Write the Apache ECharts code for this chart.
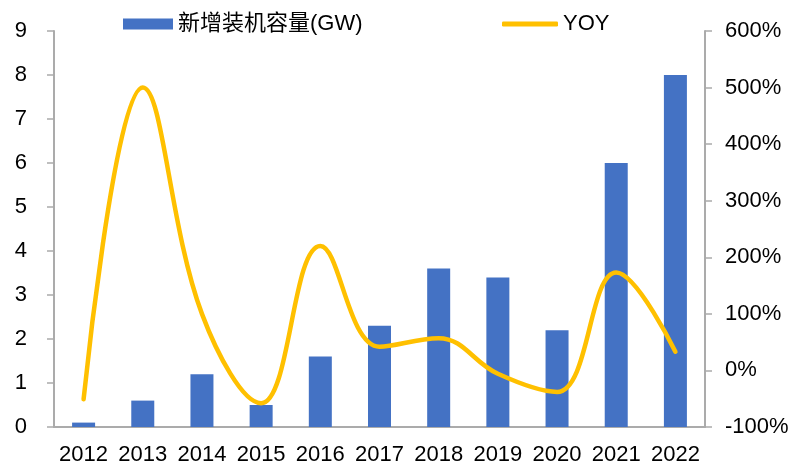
<!DOCTYPE html>
<html>
<head>
<meta charset="utf-8">
<script src="https://cdn.jsdelivr.net/npm/echarts@6/dist/echarts.min.js"></script>
<style>
  html, body { margin: 0; padding: 0; background: #fff; }
  #chart { width: 796px; height: 466px; }
</style>
</head>
<body>
<div id="chart"></div>
<script>
var years = ['2012', '2013', '2014', '2015', '2016', '2017', '2018', '2019', '2020', '2021', '2022'];
var capacity = [0.1, 0.6, 1.2, 0.5, 1.6, 2.3, 3.6, 3.4, 2.2, 6.0, 8.0];
var yoy = [-51, 500, 100, -58, 220, 42, 57, -6, -38, 173, 33];

var font = '"Liberation Sans", Arial, "Noto Sans CJK SC", sans-serif';
var axisGray = '#ABABAB';

var chart = echarts.init(document.getElementById('chart'));
var option = {
  animation: false,
  textStyle: { fontFamily: font },
  legend: [
    {
      data: [{ name: '新增装机容量(GW)', icon: 'rect' }],
      left: 118, top: 8,
      itemWidth: 50, itemHeight: 11,
      textStyle: { fontSize: 22, color: '#000', fontFamily: font }
    },
    {
      data: [{ name: 'YOY', icon: 'roundRect' }],
      left: 497, top: 8,
      itemWidth: 56, itemHeight: 5,
      textStyle: { fontSize: 22, color: '#000', fontFamily: font }
    }
  ],
  grid: { left: 54, right: 91, top: 31, bottom: 38, containLabel: false },
  xAxis: {
    type: 'category',
    data: years,
    axisLine: { lineStyle: { color: axisGray, width: 2 } },
    axisTick: { show: false },
    axisLabel: { color: '#000', fontSize: 22, margin: 17, interval: 0, fontFamily: font }
  },
  yAxis: [
    {
      type: 'value', min: 0, max: 9, interval: 1,
      splitLine: { show: false },
      axisLine: { show: true, lineStyle: { color: axisGray, width: 2 } },
      axisTick: { show: true, length: 7, lineStyle: { color: axisGray, width: 1.5 } },
      axisLabel: { color: '#000', fontSize: 22, margin: 27, fontFamily: font }
    },
    {
      type: 'value', min: -100, max: 600, interval: 100,
      position: 'right',
      splitLine: { show: false },
      axisLine: { show: true, lineStyle: { color: axisGray, width: 2 } },
      axisTick: { show: true, length: 7, lineStyle: { color: axisGray, width: 1.5 } },
      axisLabel: { color: '#000', fontSize: 22, margin: 20, fontFamily: font, formatter: '{value}%' }
    }
  ],
  series: [
    {
      name: '新增装机容量(GW)',
      type: 'bar',
      data: capacity,
      barWidth: 23,
      itemStyle: { color: '#4472C4' }
    },
    {
      name: 'YOY',
      type: 'line',
      yAxisIndex: 1,
      data: yoy,
      smooth: 0.4,
      symbol: 'none',
      lineStyle: { color: '#FFC000', width: 4.5, cap: 'round' },
      itemStyle: { color: '#FFC000' }
    }
  ]
};
chart.setOption(option);
</script>
</body>
</html>
